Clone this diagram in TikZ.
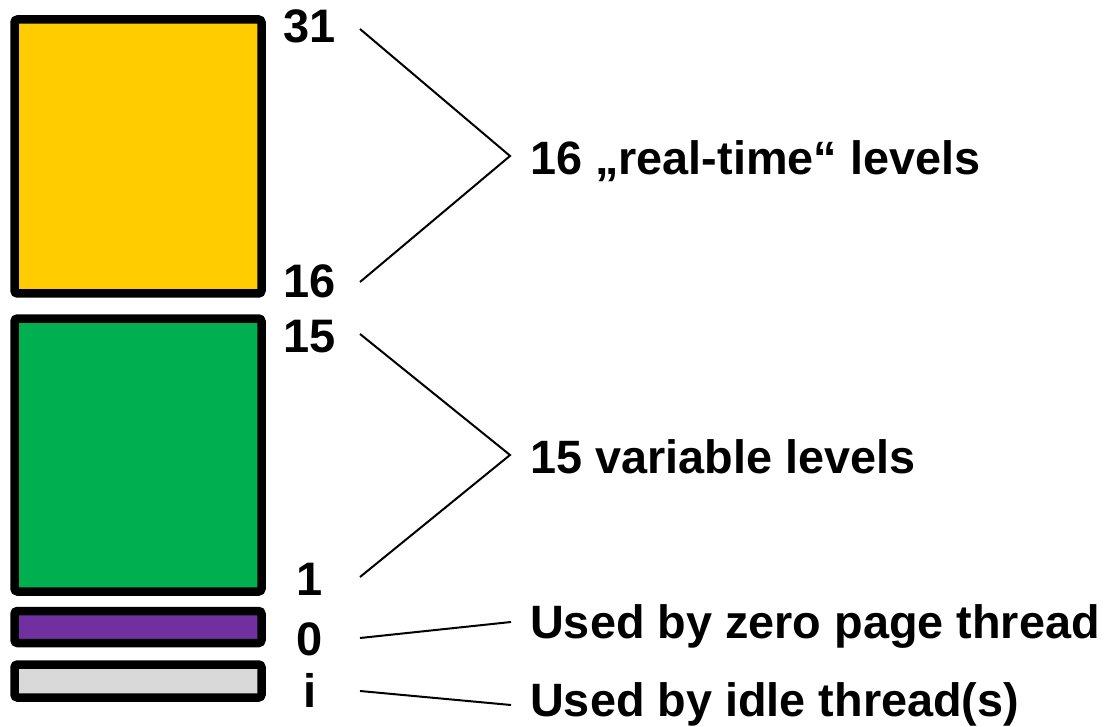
\documentclass[tikz,border=0pt]{standalone}
\usepackage{fontspec}
\setmainfont{Liberation Sans}
\definecolor{cyellow}{HTML}{FFCC00}
\definecolor{cgreen}{HTML}{00B050}
\definecolor{cpurple}{HTML}{7030A0}
\definecolor{cgrey}{HTML}{D9D9D9}
\tikzset{
  prio/.style={draw=black, line width=8.5pt, rounded corners=3pt, inner sep=0pt, outer sep=0pt, minimum width=247pt},
  num/.style={anchor=base, inner sep=0pt, font=\fontsize{47}{50}\selectfont\bfseries},
  lbl/.style={anchor=base west, inner sep=0pt, font=\fontsize{46.8}{50}\selectfont\bfseries},
  conn/.style={draw=black, line width=2pt}
}
\begin{document}
\begin{tikzpicture}[x=1pt,y=-1pt]
\useasboundingbox (0,0) rectangle (1108,727);
% priority bands
\node[prio, fill=cyellow, minimum height=274pt] (rtbox) at (138,156.5) {};
\node[prio, fill=cgreen, minimum height=273pt] (varbox) at (138,455) {};
\node[prio, fill=cpurple, minimum height=32pt] (zerobox) at (138,627) {};
\node[prio, fill=cgrey, minimum height=33pt] (idlebox) at (138,681) {};
% level numbers
\node[num] (n31) at (310,43) {31};
\node[num] (n16) at (310,298) {16};
\node[num] (n15) at (310,352) {15};
\node[num] (n1) at (310,595) {1};
\node[num] (n0) at (310,655) {0};
\node[num] (ni) at (310,707) {i};
% descriptions
\node[lbl] (trt) at (530,175) {16 „real-time“ levels};
\node[lbl] (tvar) at (530,473) {15 variable levels};
\node[lbl] (tzero) at (530,638) {Used by zero page thread};
\node[lbl] (tidle) at (530,716) {Used by idle thread(s)};
% connector points
\coordinate (c31) at (360,29);
\coordinate (c16) at (360,282);
\coordinate (crt) at (510,156);
\coordinate (c15) at (360,334);
\coordinate (c1) at (360,577);
\coordinate (cvar) at (510,455);
\coordinate (c0) at (360,638);
\coordinate (czero) at (511,622);
\coordinate (ci) at (360,691);
\coordinate (cidle) at (511,705);
% connectors
\draw[conn] (c31) -- (crt) -- (c16);
\draw[conn] (c15) -- (cvar) -- (c1);
\draw[conn] (c0) -- (czero);
\draw[conn] (ci) -- (cidle);
\end{tikzpicture}
\end{document}
